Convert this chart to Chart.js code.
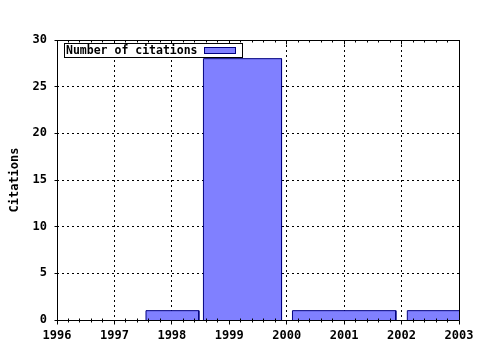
<!DOCTYPE html>
<html><head><meta charset="utf-8">
<style>html,body{margin:0;padding:0;background:#fff}canvas{display:block}</style>
<script src="https://cdn.jsdelivr.net/npm/chart.js@4"></script>
</head>
<body>
<canvas id="c" width="480" height="350"></canvas>
<script>
const seriesLabel = 'Number of citations';
const axisTitle = 'Citations';
const barStart = [1997.55, 1998.55, 2000.1, 2002.1];
const barEnd = [1998.47, 1999.91, 2001.9, 2003.9];
const citations = [1, 28, 1, 1];
const yearTicks = [1996, 1997, 1998, 1999, 2000, 2001, 2002, 2003];
const citationTicks = [0, 5, 10, 15, 20, 25, 30];

const FONT = "'DejaVu Sans Mono', 'Liberation Mono', monospace";
const FILL = '#8080ff';
const EDGE = '#000080';

const datasets = citations.map((v, i) => ({
  label: seriesLabel,
  data: [
    {x: barStart[i], y: 0}, {x: barStart[i], y: v},
    {x: barEnd[i], y: v}, {x: barEnd[i], y: 0}
  ],
  showLine: true,
  fill: 'origin',
  backgroundColor: FILL,
  borderColor: EDGE,
  borderWidth: 1,
  pointRadius: 0,
  tension: 0
}));

const al = p => Math.round(p - 0.5) + 0.5;

const framePlugin = {
  id: 'frame',
  afterDraw(chart) {
    const {ctx, chartArea: a, scales: {x, y}} = chart;
    const L = al(a.left), R = al(a.right);
    const T = al(a.top), B = al(a.bottom);
    ctx.save();
    ctx.strokeStyle = '#000';
    ctx.lineWidth = 1;
    ctx.setLineDash([]);
    ctx.beginPath();
    ctx.rect(L, T, R - L, B - T);
    yearTicks.forEach(v => {
      const px = al(x.getPixelForValue(v));
      ctx.moveTo(px, B); ctx.lineTo(px, B + 4);
      ctx.moveTo(px, T); ctx.lineTo(px, T + 4);
    });
    for (let k = 0; k < yearTicks.length - 1; k++) {
      for (let m = 1; m < 5; m++) {
        const px = al(x.getPixelForValue(yearTicks[k] + m * 0.2));
        ctx.moveTo(px, B - 2); ctx.lineTo(px, B + 2);
        ctx.moveTo(px, T); ctx.lineTo(px, T + 2);
      }
    }
    citationTicks.forEach(v => {
      const py = al(y.getPixelForValue(v));
      ctx.moveTo(L - 3, py); ctx.lineTo(L, py);
    });
    ctx.stroke();

    const lx = Math.round(a.left) + 7.5, ly = Math.round(a.top) + 3.5;
    const lw = 178, lh = 14;
    ctx.fillStyle = '#fff';
    ctx.fillRect(lx, ly, lw, lh);
    ctx.strokeRect(lx, ly, lw, lh);
    ctx.fillStyle = '#000';
    ctx.font = "bold 11.5px " + FONT;
    ctx.textBaseline = 'middle';
    ctx.textAlign = 'left';
    ctx.fillText(seriesLabel, lx + 1.5, ly + lh / 2 + 0.5);
    ctx.fillStyle = FILL;
    ctx.fillRect(lx + 140, ly + 4, 31, 6);
    ctx.strokeStyle = EDGE;
    ctx.strokeRect(lx + 140, ly + 4, 31, 6);
    ctx.restore();
  }
};

new Chart(document.getElementById('c'), {
  type: 'scatter',
  data: {datasets},
  options: {
    responsive: false,
    animation: false,
    layout: {padding: {top: 40, right: 21, left: 0, bottom: 0}},
    plugins: {legend: {display: false}, tooltip: {enabled: false}},
    scales: {
      x: {
        type: 'linear',
        min: yearTicks[0], max: yearTicks[yearTicks.length - 1],
        afterBuildTicks(scale) { scale.ticks = yearTicks.map(v => ({value: v})); },
        afterFit(scale) { scale.height = 30; scale.paddingLeft = 0; scale.paddingRight = 0; },
        ticks: {
          callback: v => String(v),
          color: '#000',
          font: {family: FONT, size: 12, weight: 'bold'},
          padding: 9,
          maxRotation: 0,
          autoSkip: false
        },
        grid: {color: '#000', lineWidth: 1, drawTicks: false},
        border: {display: false, dash: [2, 3]}
      },
      y: {
        min: 0, max: 30,
        afterBuildTicks(scale) { scale.ticks = citationTicks.map(v => ({value: v})); },
        afterFit(scale) { scale.width = 57; scale.paddingTop = 0; scale.paddingBottom = 0; },
        title: {
          display: true, text: axisTitle, color: '#000',
          font: {family: FONT, size: 12, weight: 'bold'},
          padding: {top: 8, bottom: 0}
        },
        ticks: {
          color: '#000',
          font: {family: FONT, size: 12, weight: 'bold'},
          padding: 10
        },
        grid: {color: '#000', lineWidth: 1, drawTicks: false},
        border: {display: false, dash: [2, 3]}
      }
    }
  },
  plugins: [framePlugin]
});
</script>
</body></html>
